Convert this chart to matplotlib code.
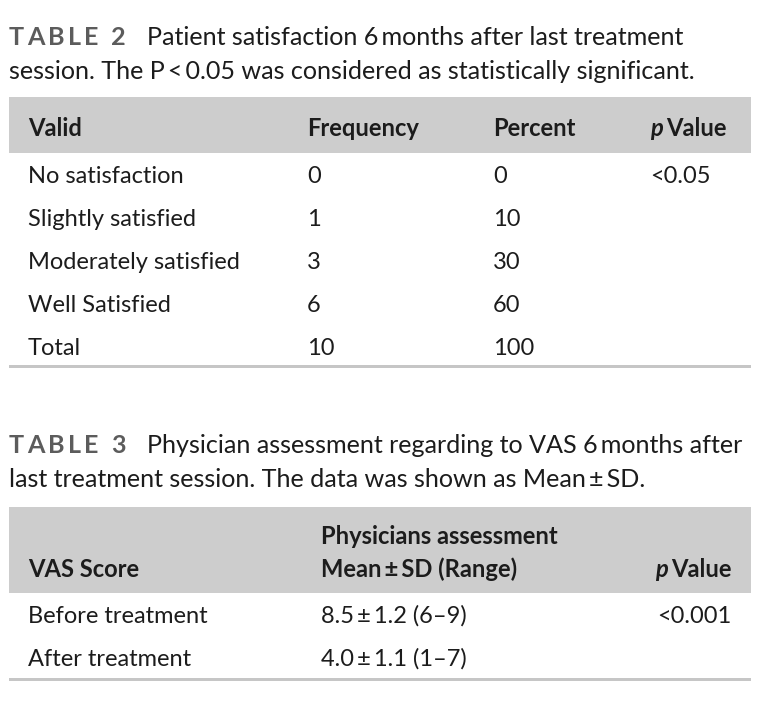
import matplotlib
matplotlib.use("Agg")
import matplotlib.pyplot as plt
from matplotlib.patches import Rectangle

plt.rcParams['font.family'] = ['Lato', 'DejaVu Sans']

# ---- data ----
t2_caption_label = "TABLE 2"
t2_caption = ["Patient satisfaction 6\u2009months after last treatment",
              "session. The P\u2009<\u20090.05 was considered as statistically significant."]
t2_headers = ["Valid", "Frequency", "Percent", "Value"]
t2_categories = ["No satisfaction", "Slightly satisfied", "Moderately satisfied", "Well Satisfied", "Total"]
t2_frequency = [0, 1, 3, 6, 10]
t2_percent = [0, 10, 30, 60, 100]
t2_pvalue = ["<0.05", "", "", "", ""]

t3_caption_label = "TABLE 3"
t3_caption = ["Physician assessment regarding to VAS 6\u2009months after",
              "last treatment session. The data was shown as Mean\u2009\u00b1\u2009SD."]
t3_headers = ["VAS Score", "Physicians assessment", "Mean\u2009\u00b1\u2009SD (Range)", "Value"]
t3_rows = ["Before treatment", "After treatment"]
t3_mean = [8.5, 4.0]
t3_sd = [1.2, 1.1]
t3_range = [(6, 9), (1, 7)]
t3_pvalue = ["<0.001", ""]

# ---- figure ----
W, H = 776, 706
fig = plt.figure(figsize=(W / 100, H / 100), dpi=100)
ax = fig.add_axes([0, 0, 1, 1])
ax.set_xlim(0, W)
ax.set_ylim(H, 0)
ax.axis('off')

FS = 17.0
HFS = 17.1
CAP_FS = 18.1
TXT = '#1c1c1c'
BAND = '#cdcdcd'
LINE = '#c6c6c6'
LABEL = '#5c5c5c'

fig.canvas.draw()
renderer = fig.canvas.get_renderer()


def spaced(x, y, s, spacing, **kw):
    for ch in s:
        t = ax.text(x, y, ch, va='baseline', ha='left', **kw)
        bb = t.get_window_extent(renderer=renderer)
        w = bb.width
        if ch == ' ':
            w = 6
        x += w + spacing
    return x


def caption(y1, y2, label, lines):
    spaced(9, y1, label, 3.2, fontsize=CAP_FS, color=LABEL, fontweight='bold')
    ax.text(147, y1, lines[0], fontsize=CAP_FS, color=TXT, va='baseline')
    ax.text(9, y2, lines[1], fontsize=CAP_FS, color=TXT, va='baseline')


def pvalue_header(x, y, word):
    ax.text(x, y, "p", fontsize=HFS, color=TXT, fontweight='bold', fontstyle='italic', va='baseline')
    ax.text(x + 16, y, word, fontsize=HFS, color=TXT, fontweight='bold', va='baseline')


# ===== Table 2 =====
caption(45, 79, t2_caption_label, t2_caption)
ax.add_patch(Rectangle((9, 97), 742, 56, facecolor=BAND, edgecolor='none'))
hb = 136
ax.text(28, hb, t2_headers[0], fontsize=HFS, fontweight='bold', color=TXT, va='baseline')
ax.text(307, hb, t2_headers[1], fontsize=HFS, fontweight='bold', color=TXT, va='baseline')
ax.text(493, hb, t2_headers[2], fontsize=HFS, fontweight='bold', color=TXT, va='baseline')
pvalue_header(650, hb, t2_headers[3])

row_base = [183, 226, 269, 312, 355]
for i, cat in enumerate(t2_categories):
    y = row_base[i]
    ax.text(28, y, cat, fontsize=FS, color=TXT, va='baseline')
    ax.text(307, y, str(t2_frequency[i]), fontsize=FS, color=TXT, va='baseline')
    ax.text(493, y, str(t2_percent[i]), fontsize=FS, color=TXT, va='baseline')
    if t2_pvalue[i]:
        ax.text(650, y, t2_pvalue[i], fontsize=FS, color=TXT, va='baseline')
ax.add_patch(Rectangle((9, 365), 742, 3, facecolor=LINE, edgecolor='none'))

# ===== Table 3 =====
caption(453, 487, t3_caption_label, t3_caption)
ax.add_patch(Rectangle((9, 507), 742, 86, facecolor=BAND, edgecolor='none'))
ax.text(28, 577, t3_headers[0], fontsize=HFS, fontweight='bold', color=TXT, va='baseline')
ax.text(321, 544, t3_headers[1], fontsize=HFS, fontweight='bold', color=TXT, va='baseline')
ax.text(321, 577, t3_headers[2], fontsize=HFS, fontweight='bold', color=TXT, va='baseline')
pvalue_header(655, 577, t3_headers[3])

row_base3 = [623, 666]
for i, r in enumerate(t3_rows):
    y = row_base3[i]
    ax.text(28, y, r, fontsize=FS, color=TXT, va='baseline')
    lo, hi = t3_range[i]
    ax.text(321, y, f"{t3_mean[i]:.1f}\u2009\u00b1\u2009{t3_sd[i]:.1f} ({lo}\u2013{hi})",
            fontsize=FS, color=TXT, va='baseline')
    if t3_pvalue[i]:
        ax.text(731, y, t3_pvalue[i], fontsize=FS, color=TXT, va='baseline', ha='right')
ax.add_patch(Rectangle((9, 678), 742, 3, facecolor=LINE, edgecolor='none'))

fig.savefig("out.png", dpi=100, facecolor='white')
